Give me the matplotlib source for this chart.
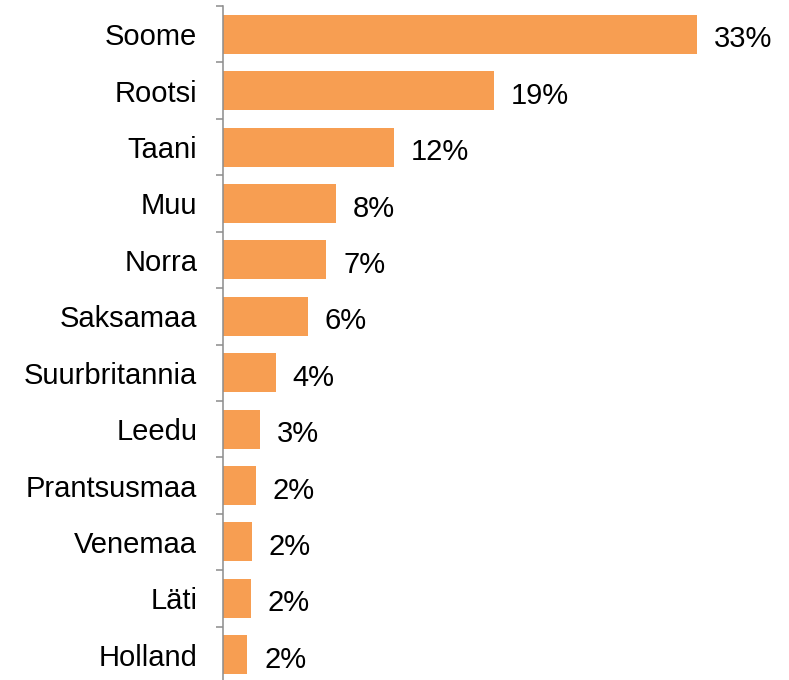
import matplotlib.pyplot as plt
import numpy as np

plt.rcParams['font.family'] = ['Liberation Sans', 'DejaVu Sans']

countries = ["Soome", "Rootsi", "Taani", "Muu", "Norra", "Saksamaa",
             "Suurbritannia", "Leedu", "Prantsusmaa", "Venemaa", "Läti", "Holland"]
shares = [33.0, 18.9, 11.9, 7.9, 7.2, 5.9, 3.7, 2.6, 2.3, 2.0, 1.95, 1.7]
labels = ["33%", "19%", "12%", "8%", "7%", "6%", "4%", "3%", "2%", "2%", "2%", "2%"]

barColor = "#F79E52"
axisColor = "#8C8C8C"
fontSize = 21

fig = plt.figure(figsize=(7.89, 6.80), dpi=100)
# axes placed in pixel terms: axis line at x=223, top at y=6, runs off the bottom edge
pxPerUnit = 474 / 33
xmax = 36
ax = fig.add_axes([223 / 789, -3 / 680, xmax * pxPerUnit / 789, 677 / 680])

n = len(countries)
ypos = np.arange(n)
ax.barh(ypos, shares, height=0.69, color=barColor)
ax.set_ylim(n - 0.5, -0.5)
ax.set_xlim(0, xmax)

for y, v, lab in zip(ypos, shares, labels):
  ax.annotate(lab, (v, y), xytext=(12, -1.5), textcoords='offset points',
              ha='left', va='center_baseline', fontsize=fontSize)

ax.set_yticks(ypos)
ax.set_yticklabels(countries, fontsize=fontSize)
ax.tick_params(axis='y', which='major', length=0, pad=18.5)
ax.set_yticks(np.arange(n + 1) - 0.5, minor=True)
ax.tick_params(axis='y', which='minor', length=5, width=1.1, color=axisColor)
ax.set_xticks([])

for side in ['top', 'right', 'bottom']:
  ax.spines[side].set_visible(False)
ax.spines['left'].set_color(axisColor)
ax.spines['left'].set_linewidth(1.1)

plt.savefig("out.png", dpi=100)
